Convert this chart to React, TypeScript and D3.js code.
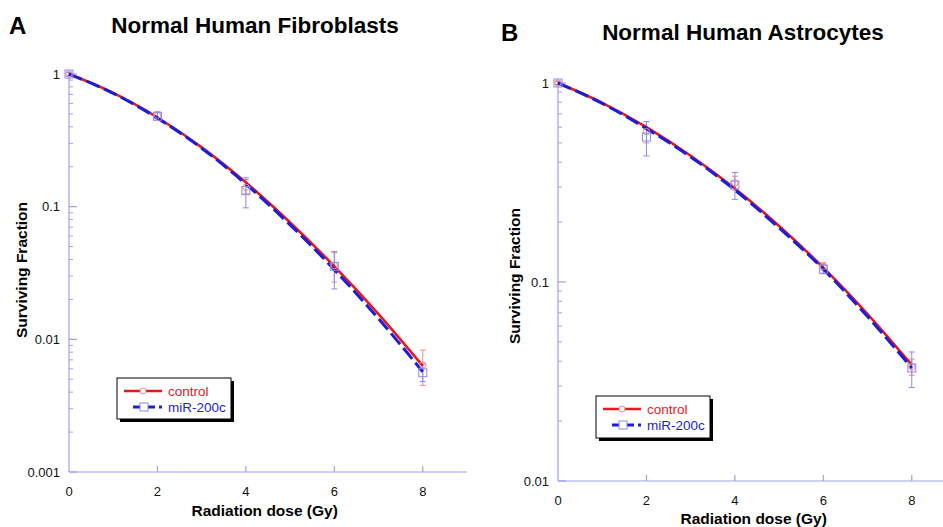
import React from 'react'
import * as d3 from 'd3'

// measured points
const DOSES = [0, 2, 4, 6, 8]

const FIB_CONTROL = [1, 0.49, 0.14, 0.036, 0.0064]
const FIB_CONTROL_LO = [0.97, 0.47, 0.125, 0.027, 0.0045]
const FIB_CONTROL_HI = [1.03, 0.52, 0.16, 0.045, 0.0083]
const FIB_MIR = [1, 0.48, 0.132, 0.0355, 0.0056]
const FIB_MIR_LO = [0.97, 0.46, 0.098, 0.024, 0.0048]
const FIB_MIR_HI = [1.03, 0.51, 0.165, 0.046, 0.0065]

const AST_CONTROL = [1, 0.57, 0.315, 0.12, 0.0375]
const AST_CONTROL_LO = [0.98, 0.5, 0.29, 0.115, 0.034]
const AST_CONTROL_HI = [1.02, 0.64, 0.34, 0.125, 0.041]
const AST_MIR = [1, 0.535, 0.307, 0.116, 0.037]
const AST_MIR_LO = [0.98, 0.43, 0.26, 0.11, 0.0295]
const AST_MIR_HI = [1.02, 0.64, 0.355, 0.122, 0.0445]

// fitted curves
const FIT_DOSES = [0, 1, 2, 3, 4, 5, 6, 7, 8]
const FIB_CONTROL_FIT = [1, 0.72, 0.47, 0.28, 0.152, 0.076, 0.0355, 0.0155, 0.0063]
const FIB_MIR_FIT = [1, 0.715, 0.465, 0.276, 0.148, 0.073, 0.0335, 0.0143, 0.0057]
const AST_CONTROL_FIT = [1, 0.795, 0.6, 0.431, 0.295, 0.191, 0.118, 0.069, 0.0383]
const AST_MIR_FIT = [1, 0.79, 0.59, 0.425, 0.29, 0.187, 0.116, 0.067, 0.037]

const X_TICKS = [0, 2, 4, 6, 8]

const RED = '#e3191f'
const BLUE = '#1d1dd6'
const RED_LIGHT = '#f08a8a'
const BLUE_LIGHT = '#8a8aee'
const AXIS = '#a0a0f0'
const FONT = '"Liberation Sans", Arial, sans-serif'

type Series = { mean: number[]; lo: number[]; hi: number[]; fit: number[] }

function Panel({
  letter,
  title,
  left,
  right,
  top,
  bottom,
  yMin,
  control,
  mir,
  letterPos,
  titleX,
  titleY,
  yLabelX,
  yLabelY,
  xLabelY,
  legend,
}: {
  letter: string
  title: string
  left: number
  right: number
  top: number
  bottom: number
  yMin: number
  control: Series
  mir: Series
  letterPos: [number, number]
  titleX: number
  titleY: number
  yLabelX: number
  yLabelY: number
  xLabelY: number
  legend: [number, number, number, number]
}) {
  const x = d3.scaleLinear().domain([0, 9]).range([left, right])
  const y = d3.scaleLog().domain([yMin, 1]).range([bottom, top])

  const line = d3
    .line<number>()
    .x((_, i) => x(FIT_DOSES[i]))
    .y((d) => y(d))
    .curve(d3.curveMonotoneX)

  const decades: number[] = []
  for (let e = Math.round(Math.log10(yMin)); e <= 0; e++) decades.push(Math.pow(10, e))
  const minors: number[] = []
  decades.slice(0, -1).forEach((d) => {
    for (let k = 2; k <= 9; k++) minors.push(d * k)
  })

  const fmt = (v: number) => (v >= 1 ? '1' : String(+v.toPrecision(1)))

  const errorBars = (s: Series, color: string) =>
    DOSES.map((d, i) => (
      <g key={`e${color}${i}`} stroke={color} strokeWidth={1}>
        <line x1={x(d)} x2={x(d)} y1={y(s.lo[i])} y2={y(s.hi[i])} />
        <line x1={x(d) - 3} x2={x(d) + 3} y1={y(s.lo[i])} y2={y(s.lo[i])} />
        <line x1={x(d) - 3} x2={x(d) + 3} y1={y(s.hi[i])} y2={y(s.hi[i])} />
      </g>
    ))

  const [lx, ly, lw, lh] = legend

  return (
    <g fontFamily={FONT}>
      <text x={letterPos[0]} y={letterPos[1]} fontSize={24} fontWeight="bold">
        {letter}
      </text>
      <text x={titleX} y={titleY} fontSize={22.5} fontWeight="bold" textAnchor="middle">
        {title}
      </text>

      {/* axes */}
      <line x1={left} x2={left} y1={top} y2={bottom} stroke={AXIS} strokeWidth={1.2} />
      <line x1={left} x2={right} y1={bottom} y2={bottom} stroke={AXIS} strokeWidth={1.2} />
      {X_TICKS.map((t) => (
        <g key={`xt${t}`}>
          {t > 0 && <line x1={x(t)} x2={x(t)} y1={bottom} y2={bottom - 6} stroke={AXIS} strokeWidth={1.2} />}
          <text x={x(t)} y={bottom + 24} fontSize={13} textAnchor="middle" fill="#111">
            {t}
          </text>
        </g>
      ))}
      {decades.map((d) => (
        <g key={`yt${d}`}>
          <line x1={left} x2={left + 8} y1={y(d)} y2={y(d)} stroke={AXIS} strokeWidth={1.2} />
          <text x={left - 9} y={y(d) + 4.5} fontSize={13} textAnchor="end" fill="#111">
            {fmt(d)}
          </text>
        </g>
      ))}
      {minors.map((m, i) => (
        <line key={`ym${i}`} x1={left} x2={left + 4} y1={y(m)} y2={y(m)} stroke={AXIS} strokeWidth={1} />
      ))}

      <text
        transform={`translate(${yLabelX},${yLabelY}) rotate(-90)`}
        fontSize={15.5}
        fontWeight="bold"
        textAnchor="middle"
      >
        Surviving Fraction
      </text>
      <text x={(left + x(8.85)) / 2} y={xLabelY} fontSize={15.5} fontWeight="bold" textAnchor="middle">
        Radiation dose (Gy)
      </text>

      {/* data */}
      {errorBars(control, RED_LIGHT)}
      {errorBars(mir, BLUE_LIGHT)}
      <path d={line(control.fit) ?? ''} fill="none" stroke={RED} strokeWidth={2.6} />
      <path
        d={line(mir.fit) ?? ''}
        fill="none"
        stroke={BLUE}
        strokeWidth={3}
        strokeDasharray="14 5"
      />
      {DOSES.map((d, i) => (
        <circle key={`c${i}`} cx={x(d)} cy={y(control.mean[i])} r={3.2} fill="none" stroke={RED_LIGHT} strokeWidth={1} />
      ))}
      {DOSES.map((d, i) => (
        <rect
          key={`s${i}`}
          x={x(d) - 4}
          y={y(mir.mean[i]) - 4}
          width={8}
          height={8}
          fill="none"
          stroke={BLUE_LIGHT}
          strokeWidth={1}
        />
      ))}

      {/* legend */}
      <rect x={lx + 3} y={ly + 3} width={lw} height={lh} fill="#000" />
      <rect x={lx} y={ly} width={lw} height={lh} fill="#fff" stroke="#000" strokeWidth={1} />
      <line x1={lx + 7} x2={lx + 45} y1={ly + 13} y2={ly + 13} stroke={RED} strokeWidth={2.4} />
      <circle cx={lx + 26} cy={ly + 13} r={3} fill="#fff" stroke={RED_LIGHT} strokeWidth={1} />
      <text x={lx + 51} y={ly + 17.5} fontSize={13.5} fill={RED}>
        control
      </text>
      <line x1={lx + 16} x2={lx + 45} y1={ly + 29} y2={ly + 29} stroke={BLUE} strokeWidth={3} strokeDasharray="9 4" />
      <rect x={lx + 23} y={ly + 25} width={8} height={8} fill="#fff" stroke={BLUE_LIGHT} strokeWidth={1} />
      <text x={lx + 51} y={ly + 33.5} fontSize={13.5} fill={BLUE}>
        miR-200c
      </text>
    </g>
  )
}

export default function App() {
  return (
    <svg
      width={943}
      height={527}
      style={{ position: 'absolute', left: 0, top: 0, background: '#fff' }}
    >
      <rect width={943} height={527} fill="#fff" />
      <Panel
        letter="A"
        title="Normal Human Fibroblasts"
        left={69}
        right={467}
        top={74}
        bottom={472}
        yMin={0.001}
        control={{ mean: FIB_CONTROL, lo: FIB_CONTROL_LO, hi: FIB_CONTROL_HI, fit: FIB_CONTROL_FIT }}
        mir={{ mean: FIB_MIR, lo: FIB_MIR_LO, hi: FIB_MIR_HI, fit: FIB_MIR_FIT }}
        letterPos={[9, 34]}
        titleX={255}
        titleY={33}
        yLabelX={27}
        yLabelY={270}
        xLabelY={516}
        legend={[117, 378, 114, 41]}
      />
      <Panel
        letter="B"
        title="Normal Human Astrocytes"
        left={558}
        right={956}
        top={83}
        bottom={481}
        yMin={0.01}
        control={{ mean: AST_CONTROL, lo: AST_CONTROL_LO, hi: AST_CONTROL_HI, fit: AST_CONTROL_FIT }}
        mir={{ mean: AST_MIR, lo: AST_MIR_LO, hi: AST_MIR_HI, fit: AST_MIR_FIT }}
        letterPos={[501, 41]}
        titleX={743}
        titleY={40}
        yLabelX={520}
        yLabelY={276}
        xLabelY={524}
        legend={[596, 396, 114, 42]}
      />
    </svg>
  )
}
